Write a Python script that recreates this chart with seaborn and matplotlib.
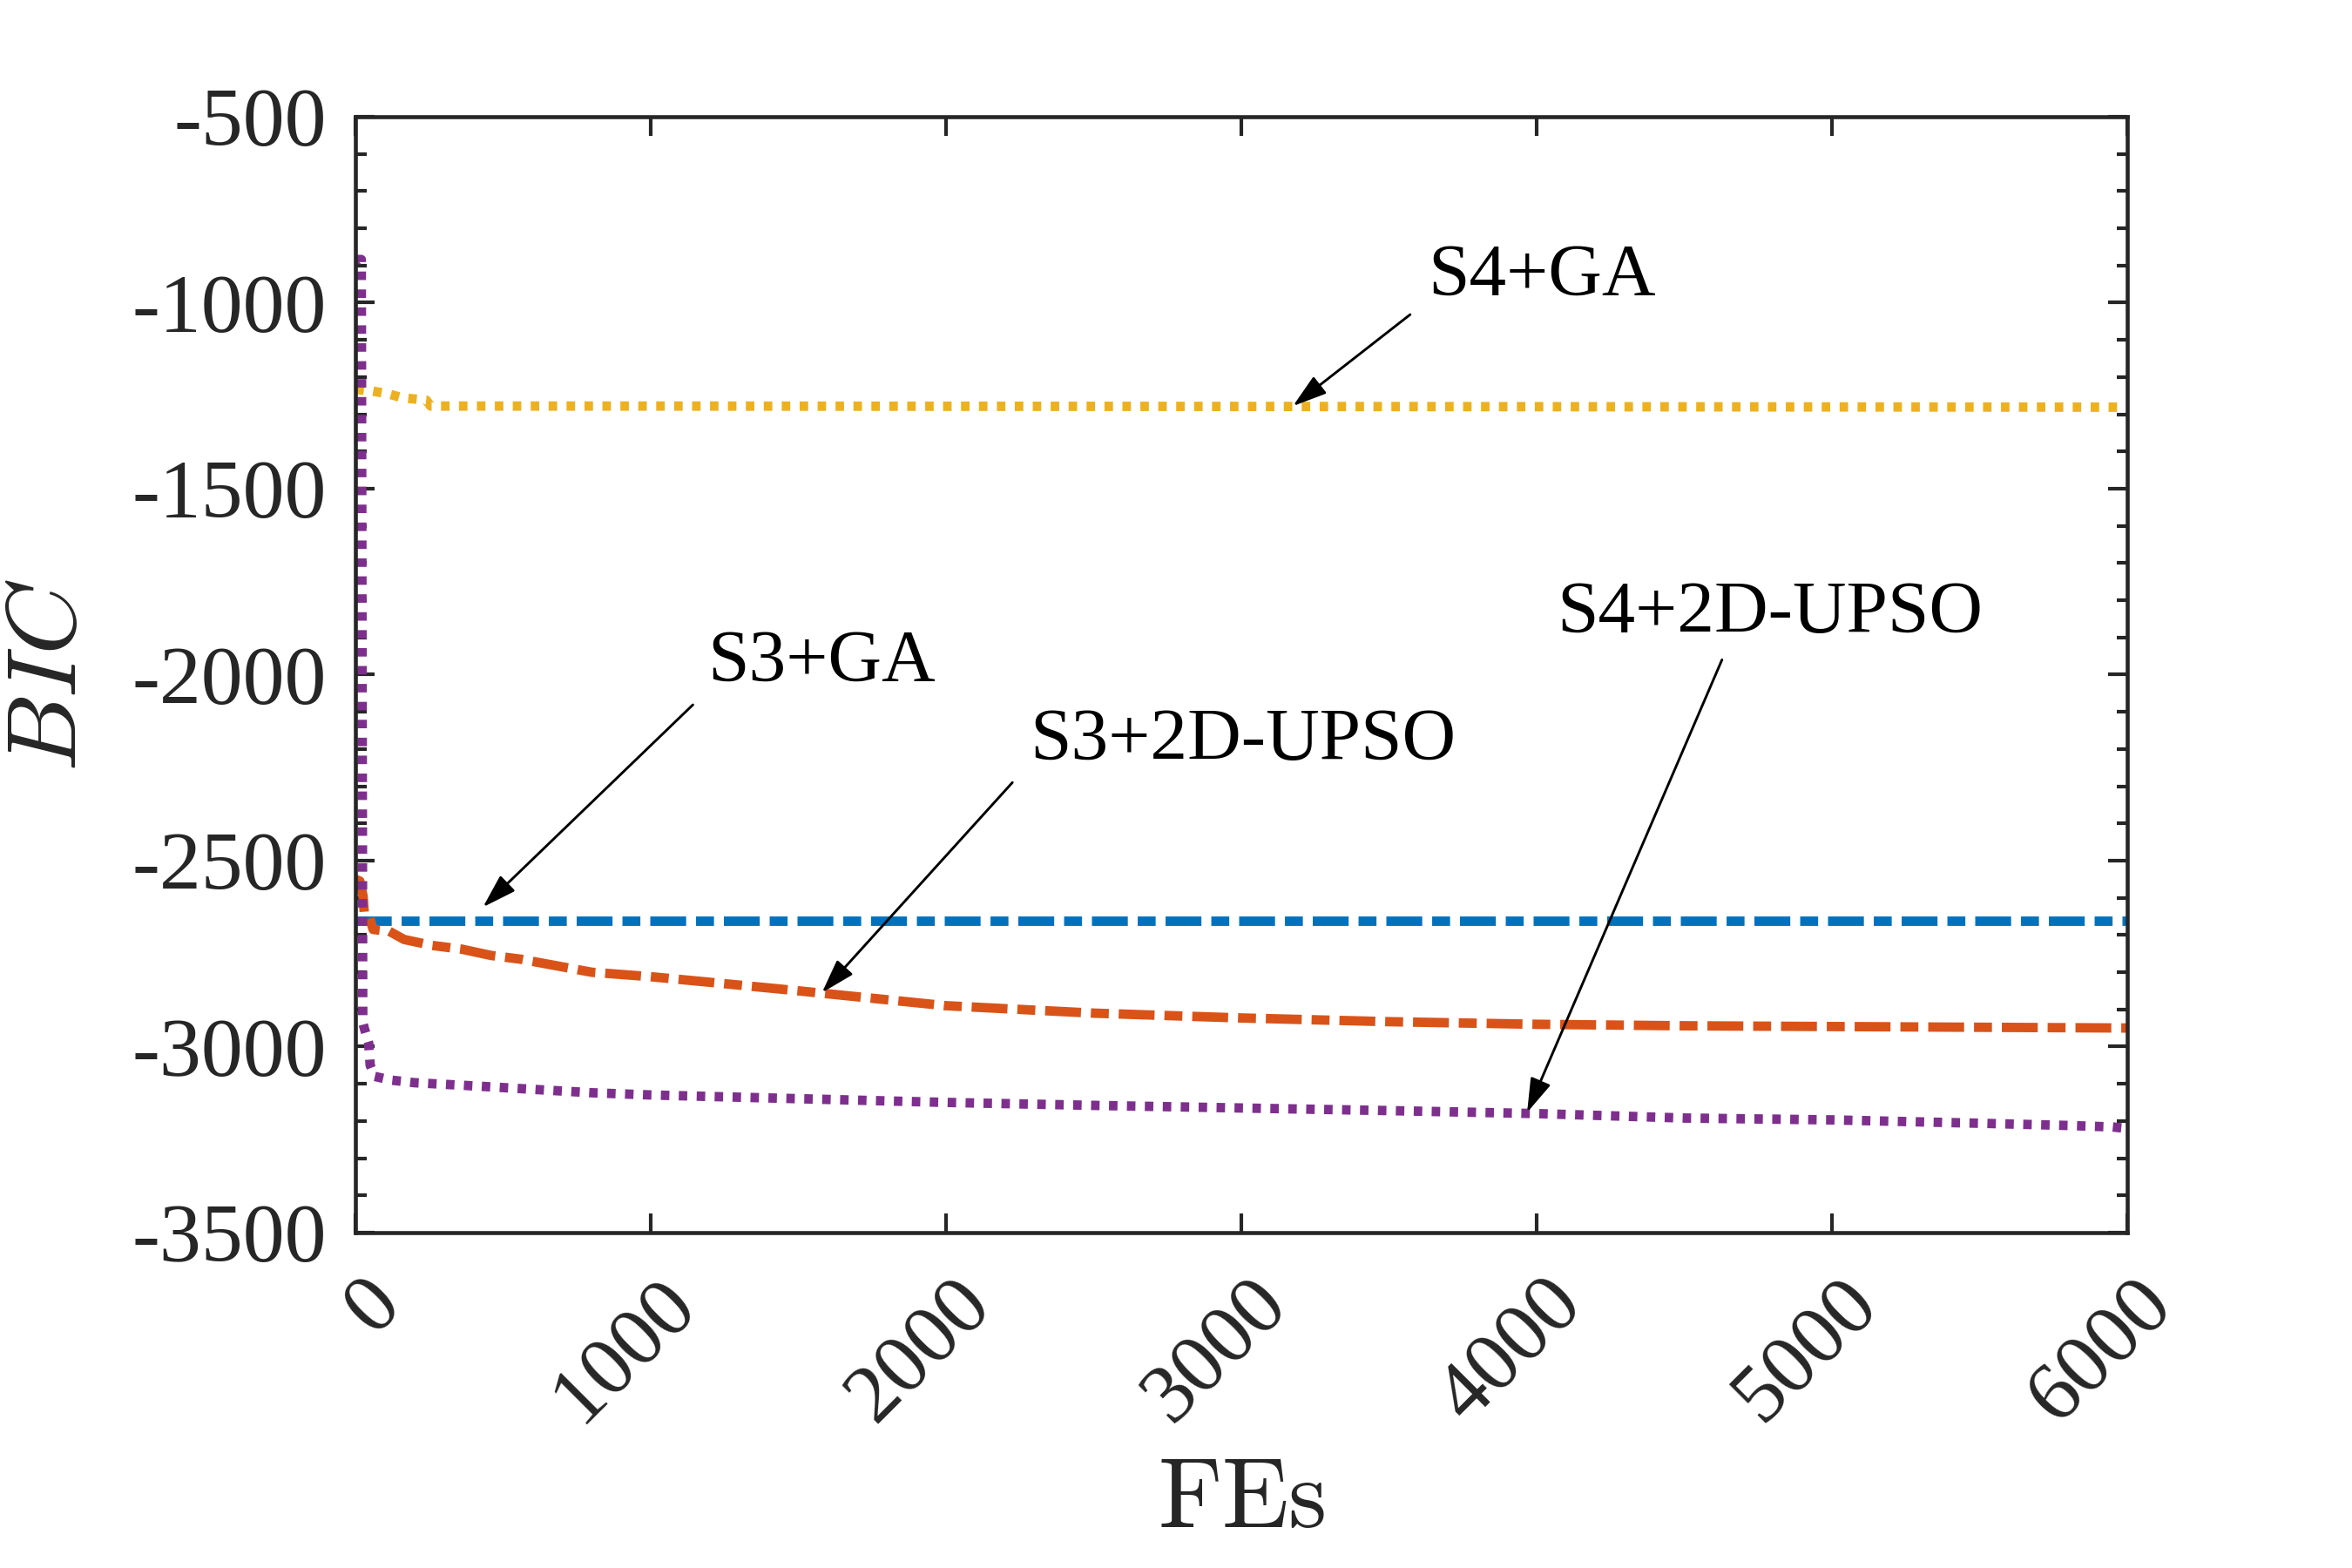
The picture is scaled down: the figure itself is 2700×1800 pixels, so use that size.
import matplotlib
matplotlib.use("Agg")
import matplotlib.pyplot as plt
import matplotlib.transforms as mtransforms
from matplotlib.ticker import MultipleLocator
import pandas as pd
import seaborn as sns

# values
s4_ga_fe = [0, 60, 110, 160, 240, 255, 1000, 3000, 6000]
s4_ga_bic = [-1233, -1238, -1245, -1256, -1262, -1278, -1278, -1279, -1281]

s3_ga_fe = [0, 6000]
s3_ga_bic = [-2661, -2661]

s3_upso_fe = [0, 15, 26, 30, 45, 60, 115, 165, 260, 360, 460, 560, 800, 1000, 1200,
              1500, 2000, 2500, 3000, 3500, 4000, 4500, 5000, 5500, 6000]
s3_upso_bic = [-2550, -2555, -2595, -2640, -2645, -2685, -2690, -2712, -2728, -2738, -2755,
               -2765, -2800, -2812, -2827, -2850, -2890, -2910, -2923, -2933, -2940, -2944,
               -2946, -2948, -2950]

s4_upso_fe = [0, 20, 25, 30, 45, 50, 65, 120, 200, 410, 800, 1000, 1500, 2000, 2500, 3000,
              3500, 4000, 4500, 5000, 5500, 5800, 5950, 6000]
s4_upso_bic = [-884, -884, -2935, -2950, -2990, -3050, -3080, -3090, -3097, -3106, -3124,
               -3130, -3140, -3150, -3158, -3165, -3172, -3180, -3192, -3197, -3206, -3212,
               -3216, -3220]

# annotation label, text centre, arrow tail, arrow tip
annotations = [
    ("S4+GA", (4019, -931), (3572, -1032), (3175, -1278)),
    ("S3+GA", (1580, -1968), (1143, -2081), (432, -2625)),
    ("S3+2D-UPSO", (3005, -2181), (2225, -2290), (1580, -2855)),
    ("S4+2D-UPSO", (4791, -1839), (4628, -1960), (3968, -3177)),
]

sns.set_theme(style="ticks")
plt.rcParams['font.family'] = ['Liberation Serif', 'DejaVu Serif']
plt.rcParams['mathtext.fontset'] = 'cm'
plt.rcParams['axes.unicode_minus'] = False

fig = plt.figure(figsize=(9, 6), dpi=300)
ax = fig.add_axes([0.1511, 0.2139, 0.7533, 0.7117])

lw = 2.6
dashdot = (0, (3.8, 1.05, 1.9, 1.05))
dotted = (0, (0.9, 1.0))

series = [
    (s3_ga_fe, s3_ga_bic, '#0072BD', dashdot),
    (s3_upso_fe, s3_upso_bic, '#D95319', dashdot),
    (s4_ga_fe, s4_ga_bic, '#EDB120', dotted),
    (s4_upso_fe, s4_upso_bic, '#7E2F8E', dotted),
]
for fe, bic, color, ls in series:
    df = pd.DataFrame({'FEs': fe, 'BIC': bic})
    sns.lineplot(data=df, x='FEs', y='BIC', ax=ax, color=color, linewidth=lw,
                 estimator=None, sort=False)
    line = ax.lines[-1]
    line.set_linestyle(ls)
    line.set_dash_capstyle('butt')

ax.set_xlim(0, 6000)
ax.set_ylim(-3500, -500)
ax.xaxis.set_major_locator(MultipleLocator(1000))
ax.yaxis.set_major_locator(MultipleLocator(500))
ax.yaxis.set_minor_locator(MultipleLocator(100))

for sp in ax.spines.values():
    sp.set_visible(True)
    sp.set_linewidth(1.1)
    sp.set_color('#262626')

ax.tick_params(axis='both', which='both', direction='in', top=True, right=True,
               colors='#262626', width=1.0)
ax.tick_params(axis='both', which='major', length=5.3)
ax.tick_params(axis='y', which='minor', length=3.0)
ax.tick_params(axis='x', which='major', pad=9, labelsize=23)
ax.tick_params(axis='y', which='major', pad=8, labelsize=23)

offset = mtransforms.ScaledTranslation(16.5 / 72, 0, fig.dpi_scale_trans)
for lab in ax.get_xticklabels():
    lab.set_rotation(45)
    lab.set_ha('right')
    lab.set_va('top')
    lab.set_transform(lab.get_transform() + offset)

ax.set_xlabel(r'$\mathrm{FEs}$', fontsize=27, color='#262626', va='center')
ax.set_ylabel(r'$BIC$', fontsize=27, color='#262626', va='center')
ax.xaxis.set_label_coords(0.5, -0.243)
ax.yaxis.set_label_coords(-0.171, 0.5)

for text, txy, tail, tip in annotations:
    ax.text(txy[0], txy[1], text, fontsize=20.5, ha='center', va='center', color='black')
    ax.annotate('', xy=tip, xytext=tail,
                arrowprops=dict(arrowstyle='-|>,head_length=0.8,head_width=0.25',
                                mutation_scale=10, lw=0.7, color='black',
                                shrinkA=0, shrinkB=0))

fig.savefig('out.png', dpi=300, facecolor='white')
